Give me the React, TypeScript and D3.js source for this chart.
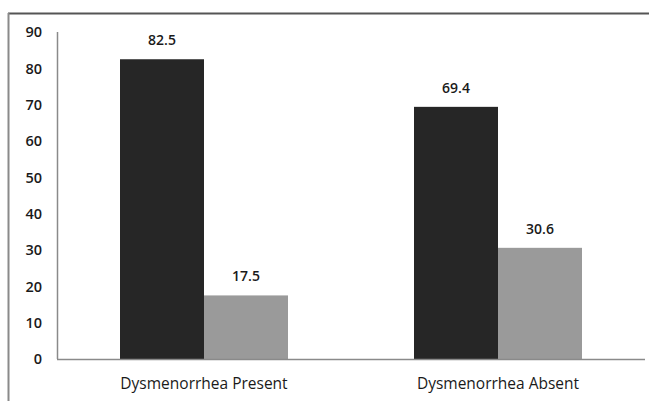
import React from "react";
import * as d3 from "d3";

const categories = ["Dysmenorrhea Present", "Dysmenorrhea Absent"];
const seriesNames = ["Series A", "Series B"];
const seriesA = [82.5, 69.4];
const seriesB = [17.5, 30.6];
const yTicks = [0, 10, 20, 30, 40, 50, 60, 70, 80, 90];

const W = 649;
const H = 401;
const colors = ["#262626", "#9a9a9a"];
const font = "'Open Sans', 'Liberation Sans', sans-serif";

export default function App() {
  const x0 = d3.scaleBand<string>().domain(categories).range([57, 645]).paddingInner(0).paddingOuter(0);
  const y = d3.scaleLinear().domain([0, 90]).range([359, 32]);
  const groupWidth = 168;
  const x1 = d3.scaleBand<string>().domain(seriesNames).range([0, groupWidth]).padding(0);
  const series = [seriesA, seriesB];

  return (
    <div style={{ position: "absolute", left: 0, top: 0, width: W, height: H, background: "#fff" }}>
      <svg width={W} height={H} style={{ display: "block" }}>
        <rect x={0} y={0} width={W} height={H} fill="#fff" />
        {/* frame */}
        <line x1={8} x2={W} y1={13.5} y2={13.5} stroke="#555" strokeWidth={2} />
        <line x1={8.5} x2={8.5} y1={13} y2={H} stroke="#8a8a8a" strokeWidth={2} />
        {/* y axis */}
        <line x1={57.5} x2={57.5} y1={y(90)} y2={y(0)} stroke="#8a8a8a" strokeWidth={1.5} />
        {yTicks.map((t) => (
          <text
            key={t}
            x={42}
            y={y(t)}
            dy="0.36em"
            textAnchor="end"
            fontFamily={font}
            fontWeight={600}
            fontSize={14.5}
            fill="#1a1a1a"
          >
            {t}
          </text>
        ))}
        {/* bars */}
        {categories.map((c, ci) => {
          const gx = (x0(c) as number) + (x0.bandwidth() - groupWidth) / 2;
          return (
            <g key={c}>
              {series.map((s, si) => {
                const bx = gx + (x1(seriesNames[si]) as number);
                const bw = x1.bandwidth();
                return (
                  <g key={si}>
                    <rect x={bx} y={y(s[ci])} width={bw} height={y(0) - y(s[ci])} fill={colors[si]} />
                    <text
                      x={bx + bw / 2}
                      y={y(s[ci]) - 14}
                      textAnchor="middle"
                      fontFamily={font}
                      fontWeight={600}
                      fontSize={14}
                      fill="#1a1a1a"
                    >
                      {s[ci].toFixed(1)}
                    </text>
                  </g>
                );
              })}
              <text
                x={(x0(c) as number) + x0.bandwidth() / 2}
                y={389}
                textAnchor="middle"
                fontFamily={font}
                fontSize={15.5}
                fill="#1a1a1a"
              >
                {c}
              </text>
            </g>
          );
        })}
        {/* x axis */}
        <line x1={57} x2={645} y1={y(0) + 0.5} y2={y(0) + 0.5} stroke="#8a8a8a" strokeWidth={1.5} />
      </svg>
    </div>
  );
}
